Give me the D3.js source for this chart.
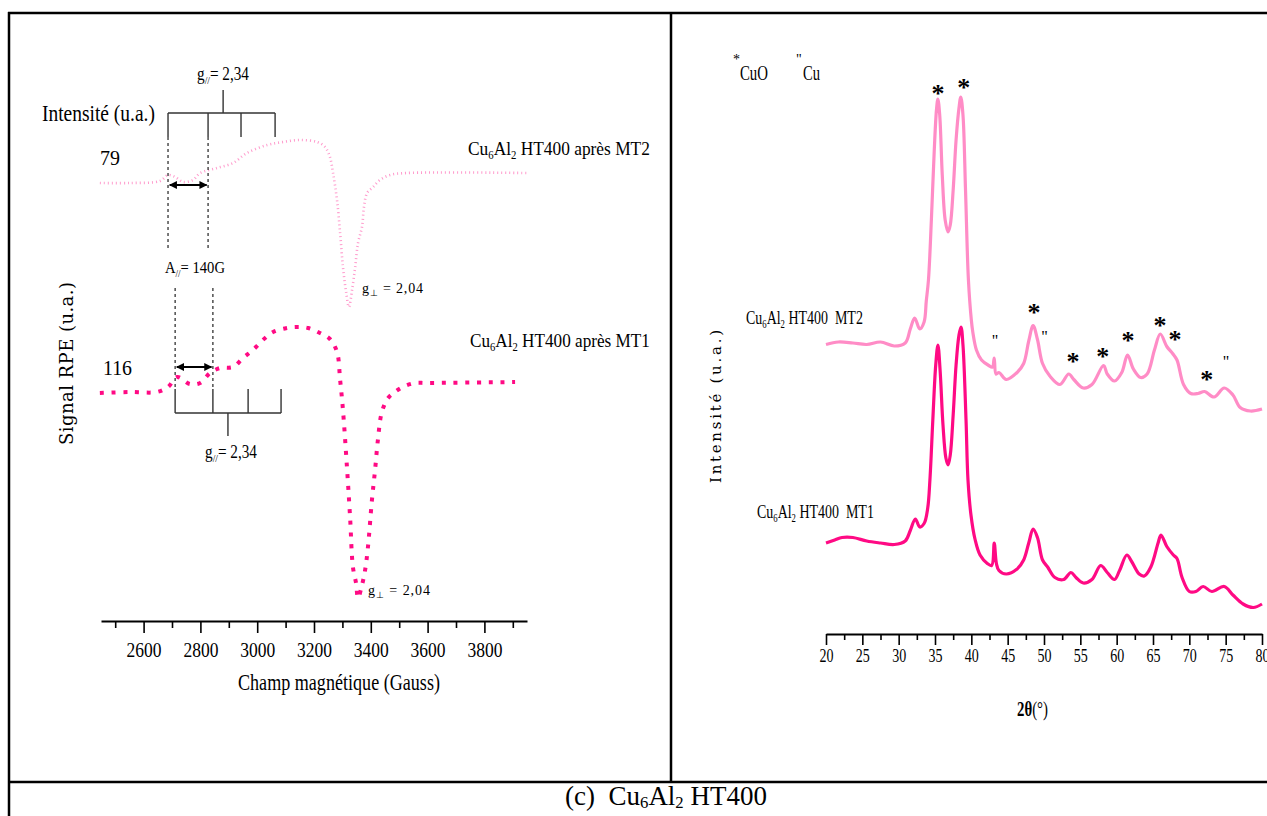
<!DOCTYPE html>
<html><head><meta charset="utf-8">
<script src="https://cdn.jsdelivr.net/npm/d3@7"></script>
<style>body{margin:0;background:#fff}svg{display:block}text{white-space:pre}</style>
</head><body>
<script>
// ---------- EPR panel (left) ----------
const eprTicks = [2600, 2800, 3000, 3200, 3400, 3600, 3800];
const eprMinorTicks = [2500, 2700, 2900, 3100, 3300, 3500, 3700, 3900];
const eprFieldMT2 = [2446,2552,2658,2686,2711,2739,2774,2799,2858,2915,2964,3035,3091,3151,3211,3239,3256,3267,3281,3292,3302,3313,3323,3334,3345,3355,3369,3376,3387,3408,3432,3468,3528,3950];
const eprSignalMT2 = [-3,-3,-1,5,3,-2,0,7,12,17,27,35,38,40,38,33,23,7,-20,-53,-87,-112,-127,-110,-87,-63,-47,-27,-13,-7,0,5,7,7];
const eprFieldMT1 = [2446,2550,2647,2686,2718,2763,2799,2834,2869,2915,2950,2985,3020,3056,3105,3140,3179,3221,3256,3281,3292,3302,3316,3327,3337,3348,3355,3369,3380,3390,3404,3415,3425,3439,3461,3485,3513,3556,3598,3908];
const eprSignalMT1 = [-10,-9,-9,-4,6,-1,0,10,15,16,25,33,43,51,55,56,55,50,44,31,3,-27,-84,-134,-184,-200,-215,-202,-187,-164,-117,-87,-57,-29,-15,-9,-4,0,0,1];
const eprOffsetMT2 = 440;
const eprOffsetMT1 = 237;
const eprGains = ["79", "116"];
const eprLabels = ["Cu6Al2 HT400 après MT2", "Cu6Al2 HT400 après MT1"];

// ---------- XRD panel (right) ----------
const xrdTicks = [20,25,30,35,40,45,50,55,60,65,70,75,80];
const xrdMinorTicks = [22.5,27.5,32.5,37.5,42.5,47.5,52.5,57.5,62.5,67.5,72.5,77.5];
const xrdAngleMT1 = [20.0,21.2,22.2,23.7,25.6,27.5,29.4,30.9,31.6,32.3,32.9,33.5,34.0,34.3,34.7,35.1,35.4,35.7,36.1,36.5,36.8,37.1,37.5,37.9,38.3,38.58,38.85,39.27,39.54,39.95,40.5,41.2,42.2,42.8,43.15,43.45,43.8,44.8,46.3,47.2,47.9,48.5,49.1,49.8,50.5,51.5,52.7,53.7,54.4,55.4,56.6,57.8,58.7,59.7,60.4,61.4,62.1,63.1,63.8,64.7,65.7,66.1,66.9,67.8,68.3,69.0,70.0,70.9,71.9,73.1,74.8,76.0,77.4,78.8,80.0];
const xrdIntMT1 = [77,80,82.5,82.5,79,77,75.5,79,89.5,101,93,96.5,112,140,200,255,275,250,195,162,155,165,205,255,285,293,275,200,140,105,81,65,56.5,54.5,77,56.5,49.5,46,51,60,77,91,82.5,60,53,42.5,40.5,47.5,42.5,37,40.5,54.5,47.5,40.5,49.5,65,58,46,44,53,77,85,73.5,65,61.5,42.5,28.5,28.5,33.5,28.5,33.5,25,16,12.5,16];
const xrdAngleMT2 = [20.0,21.7,23.7,25.6,27.5,29.4,30.9,31.6,32.2,32.9,33.5,33.8,34.1,34.5,34.9,35.2,35.4,35.65,36.0,36.4,36.8,37.1,37.5,37.9,38.3,38.55,38.85,39.2,39.6,40.0,40.2,40.7,41.4,42.4,42.9,43.15,43.4,43.8,44.8,46.3,47.2,47.9,48.5,49.1,49.8,50.8,52.2,53.4,54.1,55.4,56.6,58.2,58.7,59.7,60.7,61.5,62.3,63.3,64.2,65.2,66.0,66.9,67.7,68.3,69.2,70.2,71.2,72.1,73.4,74.8,76.0,77.0,78.4,80.0];
const xrdIntMT2 = [75.5,78,77,75.5,78,74,77,91,102,91,98,119,140,200,270,310,321,305,245,200,188,195,230,280,312,323,305,230,140,100,88,70,60,54.5,53,62,46,47.5,40.5,47.5,56.5,79,94.5,80.5,56.5,44,35.5,46,40.5,32,35.5,54.5,46,39,47.5,65,51,42.5,46,70,86,73.5,66.5,60,35.5,26.5,26.5,28.5,23,32,25,12.5,9,11];
const xrdOffsetMT1 = 0;
const xrdOffsetMT2 = 200;
const xrdLabels = ["Cu6Al2 HT400  MT2", "Cu6Al2 HT400  MT1"];
const markerAngle = [35.4, 38.95, 43.26, 48.62, 50.07, 53.99, 58.09, 61.56, 65.96, 68.03, 72.39, 75.04];
const markerLevel = [530, 536, 284, 311, 288, 262, 267, 283, 298, 284, 244, 263];
const markerSymbol = ["*","*","\"","*","\"","*","*","*","*","*","*","\""];

const W = 1267, H = 816;
const svg = d3.select("body").append("svg").attr("width", W).attr("height", H);
svg.append("rect").attr("width", W).attr("height", H).attr("fill", "#fff");

const SERIF = "'Liberation Serif', 'Times New Roman', serif";
function txt(parent, o) {
  const g = parent.append("g")
    .attr("transform", `translate(${o.x},${o.y})` + (o.rotate ? ` rotate(${o.rotate})` : ""));
  const t = g.append("text").attr("x", 0).attr("y", 0)
    .attr("font-family", o.family || SERIF)
    .attr("font-size", o.size).attr("fill", o.fill || "#000")
    .attr("text-anchor", o.anchor || "start");
  if (o.weight) t.attr("font-weight", o.weight);
  const parts = o.parts || [[o.text]];
  const subShift = o.subShift != null ? o.subShift : 0.22;
  let shifted = 0;
  parts.forEach(p => {
    const s = t.append("tspan").text(p[0]);
    const want = p[1] === "sub" ? o.size * subShift : 0;
    if (want !== shifted) { s.attr("dy", want - shifted); shifted = want; }
    if (p[1] === "sub") s.attr("font-size", o.size * 0.62);
    if (p[2]) s.attr("font-weight", p[2]);
  });
  if (o.len) {
    if (o.adjust === "spacing") {
      t.attr("textLength", o.len).attr("lengthAdjust", "spacing");
    } else {
      const w = t.node().getComputedTextLength();
      if (w > 0) t.attr("transform", `scale(${o.len / w},1)`);
    }
  }
  return t;
}
function cuParts(label) {
  const rest = label.slice(6);
  return [["Cu"], ["6", "sub"], ["Al"], ["2", "sub"], [rest]];
}

// ---------- frame ----------
const frame = svg.append("g").attr("stroke", "#000").attr("stroke-width", 2.5);
frame.append("line").attr("x1", 8).attr("x2", W).attr("y1", 13).attr("y2", 13);
frame.append("line").attr("x1", 9).attr("x2", 9).attr("y1", 12).attr("y2", H);
frame.append("line").attr("x1", 671).attr("x2", 671).attr("y1", 12).attr("y2", 782);
frame.append("line").attr("x1", 8).attr("x2", W).attr("y1", 782).attr("y2", 782);
txt(svg, {x: 666, y: 805, size: 27, anchor: "middle", subShift: 0.12,
  parts: [["(c)  Cu"], ["6", "sub"], ["Al"], ["2", "sub"], [" HT400"]]});

// ---------- EPR ----------
const xL = d3.scaleLinear().domain([2450, 3950]).range([101, 527]);
const yL = d3.scaleLinear().domain([0, 520]).range([620, 100]);
const gL = svg.append("g");

const axL = gL.append("g").attr("transform", `translate(0,${yL(-1)})`)
  .call(d3.axisBottom(xL).tickValues(eprTicks).tickSize(12).tickSizeOuter(0).tickFormat(d3.format("d")));
axL.select(".domain").attr("stroke-width", 2);
axL.selectAll(".tick line").attr("stroke-width", 1.6);
axL.selectAll(".tick text").attr("y", 36).attr("dy", 0)
  .attr("font-family", SERIF).attr("font-size", 20)
  .attr("textLength", 35).attr("lengthAdjust", "spacingAndGlyphs").attr("fill", "#000");
const axLm = gL.append("g").attr("transform", `translate(0,${yL(-1)})`)
  .call(d3.axisBottom(xL).tickValues(eprMinorTicks).tickSize(7).tickFormat(""));
axLm.select(".domain").remove();
axLm.selectAll(".tick line").attr("stroke-width", 1.6);
txt(gL, {x: 238, y: 690, size: 23, len: 202, text: "Champ magnétique (Gauss)"});
txt(gL, {x: 73, y: 445, size: 18, len: 163, adjust: "spacing", rotate: -90,
  family: "'DejaVu Serif', serif", text: "Signal RPE (u.a.)"});

const eprLine = off => d3.line()
  .x(d => xL(d[0])).y(d => yL(d[1] + off)).curve(d3.curveCatmullRom.alpha(0.5));
gL.append("path").datum(d3.zip(eprFieldMT2, eprSignalMT2))
  .attr("d", eprLine(eprOffsetMT2)).attr("fill", "none")
  .attr("stroke", "#ff9acc").attr("stroke-width", 2.6).attr("stroke-dasharray", "1 3");
gL.append("path").datum(d3.zip(eprFieldMT1, eprSignalMT1))
  .attr("d", eprLine(eprOffsetMT1)).attr("fill", "none")
  .attr("stroke", "#ff0a84").attr("stroke-width", 4).attr("stroke-dasharray", "4 7.7");

// annotations (field in G, level in signal units of yL)
const defs = svg.append("defs");
defs.append("marker").attr("id", "ah").attr("viewBox", "0 0 10 10").attr("refX", 9).attr("refY", 5)
  .attr("markerWidth", 9).attr("markerHeight", 8).attr("markerUnits", "userSpaceOnUse")
  .attr("orient", "auto-start-reverse")
  .append("path").attr("d", "M0,0L10,5L0,10z").attr("fill", "#000");

const ann = gL.append("g");
function seg(x1, v1, x2, v2, opt) {
  const l = ann.append("line").attr("x1", xL(x1)).attr("x2", xL(x2)).attr("y1", yL(v1)).attr("y2", yL(v2))
    .attr("stroke", opt.c || "#333").attr("stroke-width", opt.w || 1.4);
  if (opt.dash) l.attr("stroke-dasharray", opt.dash);
  if (opt.arrow) l.attr("marker-start", "url(#ah)").attr("marker-end", "url(#ah)");
  return l;
}
const upTicks = [2686, 2827, 2943, 3063];
seg(upTicks[0], 507, upTicks[3], 507, {});
seg(2880, 507, 2880, 530, {});
upTicks.forEach(g => seg(g, 507, g, 483, {}));
seg(2686, 483, 2686, 372, {dash: "3 3", c: "#222", w: 1.2});
seg(2827, 483, 2827, 372, {dash: "3 3", c: "#222", w: 1.2});
seg(2692, 435, 2822, 435, {arrow: true, c: "#000", w: 2});
const loTicks = [2711, 2844, 2968, 3084];
seg(loTicks[0], 207, loTicks[3], 207, {});
seg(2897, 207, 2897, 184, {});
loTicks.forEach(g => seg(g, 207, g, 231, {}));
seg(2711, 332, 2711, 231, {dash: "3 3", c: "#222", w: 1.2});
seg(2844, 332, 2844, 231, {dash: "3 3", c: "#222", w: 1.2});
seg(2717, 253, 2839, 253, {arrow: true, c: "#000", w: 2});

txt(gL, {x: 197, y: 80, size: 18, len: 52, parts: [["g"], ["//", "sub"], ["= 2,34"]]});
txt(gL, {x: 205, y: 458, size: 18, len: 52, parts: [["g"], ["//", "sub"], ["= 2,34"]]});
txt(gL, {x: 165, y: 273, size: 17, len: 60, parts: [["A"], ["//", "sub"], ["= 140G"]]});
txt(gL, {x: 362, y: 293, size: 14, len: 61, adjust: "spacing", parts: [["g"], ["⊥", "sub"], [" = 2,04"]]});
txt(gL, {x: 368, y: 595, size: 14, len: 62, adjust: "spacing", parts: [["g"], ["⊥", "sub"], [" = 2,04"]]});
txt(gL, {x: 42, y: 121, size: 23, len: 113, text: "Intensité (u.a.)"});
txt(gL, {x: 100, y: 165, size: 22, len: 20, text: eprGains[0]});
txt(gL, {x: 103, y: 375, size: 22, len: 29, text: eprGains[1]});
txt(gL, {x: 468, y: 155, size: 19, len: 182, parts: cuParts(eprLabels[0])});
txt(gL, {x: 470, y: 347, size: 19, len: 180, parts: cuParts(eprLabels[1])});

// ---------- XRD ----------
const xR = d3.scaleLinear().domain([20, 80]).range([826, 1262]);
const yR = d3.scaleLinear().domain([0, 600]).range([620, 20]);
const gR = svg.append("g");
const axR = gR.append("g").attr("transform", `translate(0,634)`)
  .call(d3.axisBottom(xR).tickValues(xrdTicks).tickSize(11).tickSizeOuter(0).tickFormat(d3.format("d")));
axR.select(".domain").attr("stroke-width", 2);
axR.selectAll(".tick line").attr("stroke-width", 1.6);
axR.selectAll(".tick text").attr("y", 28).attr("dy", 0)
  .attr("font-family", SERIF).attr("font-size", 19)
  .attr("textLength", 14).attr("lengthAdjust", "spacingAndGlyphs").attr("fill", "#000");
const axRm = gR.append("g").attr("transform", `translate(0,634)`)
  .call(d3.axisBottom(xR).tickValues(xrdMinorTicks).tickSize(6).tickFormat(""));
axRm.select(".domain").remove();
axRm.selectAll(".tick line").attr("stroke-width", 1.6);
txt(gR, {x: 1017, y: 716, size: 22, len: 31, parts: [["2θ", null, "bold"], ["(°)"]]});
txt(gR, {x: 721, y: 483, size: 15, len: 153, adjust: "spacing", rotate: -90,
  family: "'DejaVu Serif', serif", text: "Intensité (u.a.)"});

const xrdLine = off => d3.line()
  .x(d => xR(d[0])).y(d => yR(d[1] + off)).curve(d3.curveCatmullRom.alpha(0.5));
gR.append("path").datum(d3.zip(xrdAngleMT2, xrdIntMT2))
  .attr("d", xrdLine(xrdOffsetMT2)).attr("fill", "none")
  .attr("stroke", "#ff8cc6").attr("stroke-width", 3.2).attr("stroke-linejoin", "round");
gR.append("path").datum(d3.zip(xrdAngleMT1, xrdIntMT1))
  .attr("d", xrdLine(xrdOffsetMT1)).attr("fill", "none")
  .attr("stroke", "#ff0a84").attr("stroke-width", 3.2).attr("stroke-linejoin", "round");

markerAngle.forEach((a, i) => {
  const star = markerSymbol[i] === "*";
  txt(gR, {x: xR(a), y: yR(markerLevel[i]) + (star ? 12 : 10), size: star ? 26 : 16,
    weight: star ? "bold" : null, anchor: "middle", text: markerSymbol[i]});
});
txt(gR, {x: 733, y: 64, size: 14, text: "*"});
txt(gR, {x: 740, y: 80, size: 21, len: 28, text: "CuO"});
txt(gR, {x: 796, y: 64, size: 14, text: "\""});
txt(gR, {x: 803, y: 80, size: 21, len: 17, text: "Cu"});
txt(gR, {x: 746, y: 324, size: 19, len: 117, parts: cuParts(xrdLabels[0])});
txt(gR, {x: 757, y: 518, size: 19, len: 117, parts: cuParts(xrdLabels[1])});
</script>
</body></html>
